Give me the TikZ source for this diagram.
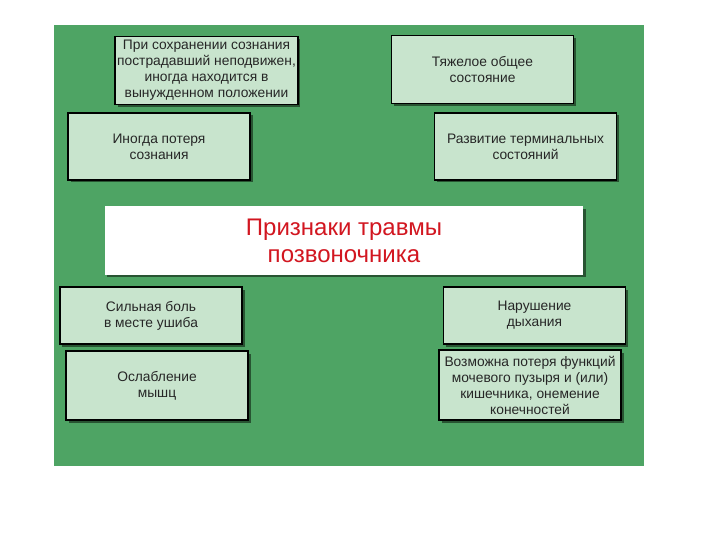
\documentclass[tikz,border=0pt]{standalone}
\usepackage{fontspec}
\setmainfont{Liberation Sans}
\usetikzlibrary{shadows}
\definecolor{bggreen}{RGB}{78,164,100}
\definecolor{boxgreen}{RGB}{200,228,205}
\definecolor{titlered}{RGB}{210,22,32}
\definecolor{shade}{RGB}{28,58,34}

\begin{document}
\begin{tikzpicture}[x=1bp,y=-1bp,
      box/.style={rectangle,draw=black,line width=1.4bp,fill=boxgreen,
                  minimum width=182bp,minimum height=68bp,inner sep=2bp,
                  text=black!85,align=center,
                  font=\fontsize{13.8bp}{16bp}\selectfont,
                  drop shadow={shadow xshift=2.5bp,shadow yshift=-2.5bp,
                               fill=shade,opacity=0.75}},
      lowbox/.style={box,minimum height=57bp},
      titlebox/.style={box,fill=white,draw=none,minimum width=478bp,
                       text=titlered,font=\fontsize{24bp}{27bp}\selectfont}
    ]

    \useasboundingbox (0,0) rectangle (720,540);

    % background
    \fill[bggreen] (54,25) rectangle (644,466);

    % upper row
    \node[box] (consc) at (206.5,70.5) {При сохранении сознания\\пострадавший неподвижен,\\иногда находится в\\вынужденном положении};
    \node[box] (state) at (482.5,69.5) {Тяжелое общее\\состояние};
    \node[box,minimum height=67bp] (loss) at (159,146.5) {Иногда потеря\\сознания};
    \node[box,minimum height=67bp] (term) at (525.5,146.5) {Развитие терминальных\\состояний};

    % title
    \node[titlebox] (title) at (344,240.5) {Признаки травмы\\позвоночника};

    % lower row
    \node[lowbox] (pain)   at (151,315.5) {Сильная боль\\в месте ушиба};
    \node[lowbox] (breath) at (534.5,315.5) {Нарушение\\дыхания};
    \node[box,minimum height=69bp] (muscle) at (157,385.5) {Ослабление\\мышц};
    \node[box,minimum height=70bp] (organs) at (530,385) {Возможна потеря функций\\мочевого пузыря и (или)\\кишечника, онемение\\конечностей};

  \end{tikzpicture}
\end{document}
